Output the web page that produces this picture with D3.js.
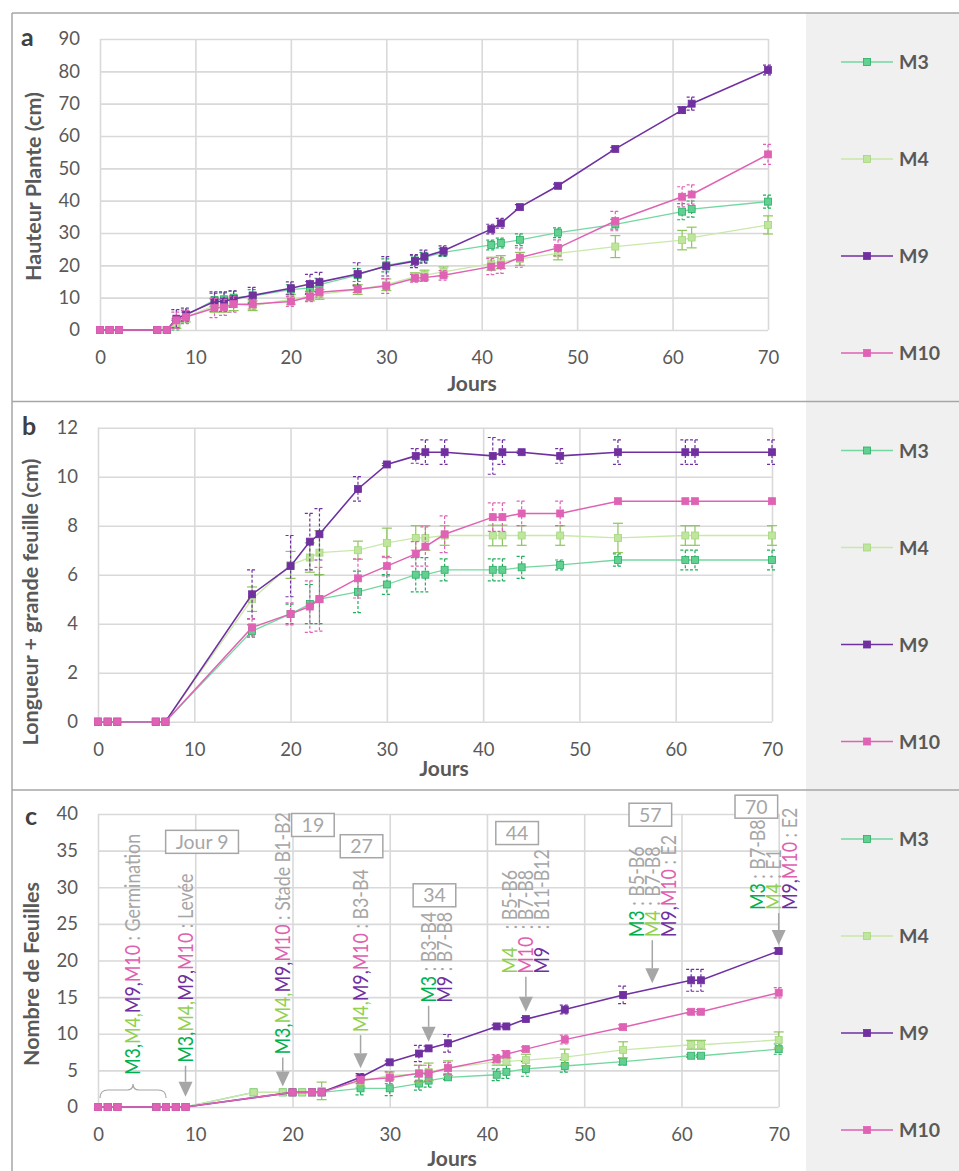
<!DOCTYPE html>
<html>
<head>
<meta charset="utf-8">
<script src="https://cdn.jsdelivr.net/npm/d3@7"></script>
<style>
  body { margin: 0; background: #fff; }
  svg { display: block; }
  text { font-family: Lato, "Open Sans", sans-serif; }
</style>
</head>
<body>
<svg id="fig" width="959" height="1171"></svg>
<script>
// ---------- data ----------
const seriesNames = ["M3", "M4", "M9", "M10"];
const xTicks = [0, 10, 20, 30, 40, 50, 60, 70];

// a : plant height (cm)
const daysHeight = [0,1,2,6,7,8,9,12,13,14,16,20,22,23,27,30,33,34,36,41,42,44,48,54,61,62,70];
const heightM3  = [0,0,0,0,0,1.5,4.5,9.3,9.5,10.0,10.5,12.5,13.0,14.0,17.0,20.0,21.5,22.5,24.0,26.3,26.9,27.9,30.1,32.7,36.6,37.4,39.7];
const heightM4  = [0,0,0,0,0,2.0,4.0,7.5,7.5,8.0,7.5,9.5,10.5,11.0,12.5,14.0,16.5,17.0,18.0,20.5,21.0,22.0,23.7,25.8,27.8,28.6,32.5];
const heightM9  = [0,0,0,0,0,3.5,4.8,8.8,8.8,9.6,10.7,12.9,14.2,14.8,17.3,19.7,21.3,22.7,24.5,31.2,33.0,38.0,44.6,56.0,68.0,70.0,80.4];
const heightM10 = [0,0,0,0,0,3.0,4.0,6.8,7.0,8.0,8.0,8.8,10.3,11.7,12.6,13.6,16.0,16.2,16.9,19.6,20.0,22.4,25.4,33.7,41.2,41.9,54.3];
const heightErrM3  = [0,0,0,0,0,1.5,2,2,2,2,2,1.5,2,2,2,2,1.5,1.5,1.2,1.5,1.5,1.8,1.5,1.5,2.5,2.5,2];
const heightErrM4  = [0,0,0,0,0,1.5,1.5,2,2,2,1.5,1.5,1.5,1.5,1.5,1.8,1.2,1.5,1.5,2,2,2,2,3.4,3,3.2,2.8];
const heightErrM9  = [0,0,0,0,0,2.8,2,3,3,2.5,2.5,2,3,3,3.5,3,2,2,1.5,1.5,1.5,0.8,0.5,0.5,1,2,1.5];
const heightErrM10 = [0,0,0,0,0,2.5,2,3,2.5,2.5,1.5,1.5,1.5,1.5,1,2.3,1.2,1.2,1.5,2.5,2.5,3,2.5,3,3.1,3,3.1];
const heightTicks = [0,10,20,30,40,50,60,70,80,90];

// b : length of the largest leaf (cm)
const daysLeaf = [0,1,2,6,7,16,20,22,23,27,30,33,34,36,41,42,44,48,54,61,62,70];
const leafM3  = [0,0,0,0,0,3.7,4.4,4.8,5.0,5.3,5.6,6.0,6.0,6.2,6.2,6.2,6.3,6.4,6.6,6.6,6.6,6.6];
const leafM4  = [0,0,0,0,0,5.0,6.4,6.7,6.9,7.0,7.3,7.5,7.5,7.6,7.6,7.6,7.6,7.6,7.5,7.6,7.6,7.6];
const leafM9  = [0,0,0,0,0,5.2,6.35,7.35,7.65,9.5,10.5,10.85,11.0,11.0,10.85,11.0,11.0,10.85,11.0,11.0,11.0,11.0];
const leafM10 = [0,0,0,0,0,3.85,4.4,4.7,5.0,5.85,6.35,6.85,7.15,7.65,8.35,8.35,8.5,8.5,9.0,9.0,9.0,9.0];
const leafErrM3  = [0,0,0,0,0,0.25,0.4,0.8,1.0,0.85,0.4,0.7,0.7,0.45,0.45,0.45,0.45,0.2,0.25,0.4,0.4,0.4];
const leafErrM4  = [0,0,0,0,0,0.5,0.55,0.6,0.9,0.37,0.6,0.5,0.5,0.4,0.42,0.42,0.4,0.4,0.6,0.4,0.4,0.4];
const leafErrM9  = [0,0,0,0,0,1.0,1.25,1.15,1.05,0.5,0.05,0.3,0.5,0.5,0.75,0.5,0.05,0.3,0.5,0.5,0.5,0.5];
const leafErrM10 = [0,0,0,0,0,0.35,0.45,1.05,1.3,0.8,0.4,0.5,0.8,0.75,0.58,0.58,0.5,0.5,0,0,0,0];
const leafTicks = [0,2,4,6,8,10,12];

// c : number of leaves
const daysCount = [0,1,2,6,7,8,9,16,19,20,21,22,23,27,30,33,34,36,41,42,44,48,54,61,62,70];
const countM3  = [0,0,0,0,0,0,0,2,2,2,2,2,2,2.55,2.55,3.2,3.6,4.05,4.4,4.8,5.2,5.6,6.2,7.0,7.0,7.9];
const countM4  = [0,0,0,0,0,0,0,2,2,2,2,2,2.2,3.5,4.3,4.5,4.8,5.3,6.2,6.2,6.4,6.8,7.8,8.5,8.5,9.15];
const countM9  = [0,0,0,0,0,0,0,null,null,2,null,2,2,4.05,6.1,7.3,8.0,8.7,11,11,12,13.3,15.3,17.3,17.3,21.3];
const countM10 = [0,0,0,0,0,0,0,null,null,2,null,2,2,3.7,4.0,4.6,4.6,5.3,6.6,7.2,7.9,9.2,10.9,13,13,15.6];
const countErrM3  = [0,0,0,0,0,0,0,0,0,0,0,0,0,0.9,1.0,0.9,0.9,0.3,0.8,0.9,1.0,0.85,0.45,0.2,0.2,0.7];
const countErrM4  = [0,0,0,0,0,0,0,0,0,0,0,0,1.2,0.8,0.5,1.2,1.2,1.0,0.5,0.5,0.8,1.1,1.1,0.6,0.6,1.1];
const countErrM9  = [0,0,0,0,0,0,0,0,0,0,0,0,0,0.5,0.2,1.1,0.3,1.2,0.2,0.2,0.2,0.6,1.2,1.5,1.5,0.4];
const countErrM10 = [0,0,0,0,0,0,0,0,0,0,0,0,0,0.5,0.8,1.1,1.1,0.8,0.55,0.5,0.3,0.6,0.3,0.3,0.3,0.7];
const countTicks = [0,5,10,15,20,25,30,35,40];

// growth-stage notes on panel c: each line is a list of [text, series] pieces
const stageNotes = [
  { day: 3.6, tip: null, label: null,
    lines: [[["M3,","M3"],["M4,","M4"],["M9,","M9"],["M10","M10"],[" : Germination",null]]] },
  { day: 9, tip: 1.4, len: 31, label: "Jour 9", labelDay: 10.7, labelVal: 36.2,
    lines: [[["M3,","M3"],["M4,","M4"],["M9,","M9"],["M10","M10"],[" : Levée",null]]] },
  { day: 19, tip: 2.8, len: 29, label: "19", labelDay: 22.1, labelVal: 38.5,
    lines: [[["M3,","M3"],["M4,","M4"],["M9,","M9"],["M10","M10"],[" : Stade B1-B2",null]]] },
  { day: 27, tip: 5.3, len: 33, label: "27", labelDay: 27.1, labelVal: 35.6,
    lines: [[["M4,","M4"],["M9,","M9"],["M10","M10"],[" : B3-B4",null]]] },
  { day: 34, tip: 8.9, len: 36, label: "34", labelDay: 34.6, labelVal: 28.9, first: 0,
    lines: [[["M3","M3"],[" : B3-B4",null]], [["M9","M9"],[" : B7-B8",null]]] },
  { day: 44, tip: 13.0, len: 35, label: "44", labelDay: 43.1, labelVal: 37.4, first: 1, tab: true,
    lines: [[["M4","M4"],[" : B5-B6",null]], [["M10","M10"],[" : B7-B8",null]], [["M9","M9"],[" : B11-B12",null]]] },
  { day: 57, tip: 16.9, len: 43, label: "57", labelDay: 56.8, labelVal: 39.9, first: 1,
    lines: [[["M3","M3"],[" : B5-B6",null]], [["M4","M4"],[" : B7-B8",null]], [["M9,","M9"],["M10","M10"],[" : E2",null]]] },
  { day: 70, tip: 22.1, len: 32, label: "70", labelDay: 67.7, labelVal: 41.0, first: 1.3,
    lines: [[["M3","M3"],[" : B7-B8",null]], [["M4","M4"],[" : E1",null]], [["M9,","M9"],["M10","M10"],[" : E2",null]]] }
];

// ---------- styles ----------
const style = {
  M3:  { line: "#74d7a0", lw: 1.3, fill: "#63cf92", stroke: "#25b062", err: "#20ad5c", dash: "3,2", text: "#00b050" },
  M4:  { line: "#c8e9a9", lw: 1.3, fill: "#c0e59e", stroke: "#a3d67c", err: "#8cc65a", dash: null,  text: "#92d050" },
  M9:  { line: "#7030a0", lw: 1.6, fill: "#7030a0", stroke: "#7030a0", err: "#7030a0", dash: "3,2", text: "#7030a0" },
  M10: { line: "#df62b4", lw: 1.5, fill: "#df62b4", stroke: "#df62b4", err: "#df62b4", dash: "3,2", text: "#e060b0" }
};
const GRID = "#d9d9d9", INK = "#595959", NOTE = "#a6a6a6", FRAME = "#a6a6a6";

const svg = d3.select("#fig");
const W = 959, H = 1171;
const legendX = 806;

// legend background column
svg.append("rect").attr("x", legendX).attr("y", 13).attr("width", W - legendX).attr("height", H - 13).attr("fill", "#f0f0f0");

const panels = [
  { letter: "a", top: 13, bottom: 401.5, plot: { l: 100, r: 768, t: 39, b: 330 }, yMax: 90, yTicks: heightTicks,
    title: "Hauteur Plante (cm)", titleX: 33, titleY: 186.5, xTitleX: 472, xTitleY: 391, letterPos: [21, 46],
    days: daysHeight, values: { M3: heightM3, M4: heightM4, M9: heightM9, M10: heightM10 },
    errs: { M3: heightErrM3, M4: heightErrM4, M9: heightErrM9, M10: heightErrM10 } },
  { letter: "b", top: 401.5, bottom: 790, plot: { l: 98, r: 772, t: 427.7, b: 721.7 }, yMax: 12, yTicks: leafTicks,
    title: "Longueur + grande feuille (cm)", titleX: 30, titleY: 602, xTitleX: 444, xTitleY: 776, letterPos: [22, 435],
    days: daysLeaf, values: { M3: leafM3, M4: leafM4, M9: leafM9, M10: leafM10 },
    errs: { M3: leafErrM3, M4: leafErrM4, M9: leafErrM9, M10: leafErrM10 } },
  { letter: "c", top: 790, bottom: H + 5, plot: { l: 98, r: 778.7, t: 814, b: 1107 }, yMax: 40, yTicks: countTicks,
    title: "Nombre de Feuilles", titleX: 31, titleY: 974, xTitleX: 452, xTitleY: 1166, letterPos: [25, 825],
    days: daysCount, values: { M3: countM3, M4: countM4, M9: countM9, M10: countM10 },
    errs: { M3: countErrM3, M4: countErrM4, M9: countErrM9, M10: countErrM10 } }
];

panels.forEach(p => {
  const x = d3.scaleLinear().domain([0, 70]).range([p.plot.l, p.plot.r]);
  const y = d3.scaleLinear().domain([0, p.yMax]).range([p.plot.b, p.plot.t]);
  p.x = x; p.y = y;
  const g = svg.append("g");

  // grid + tick labels
  const yAxis = d3.axisLeft(y).tickValues(p.yTicks).tickSize(-(p.plot.r - p.plot.l)).tickPadding(20).tickFormat(d3.format("d"));
  const xAxis = d3.axisBottom(x).tickValues(xTicks).tickSize(-(p.plot.b - p.plot.t)).tickPadding(21).tickFormat(d3.format("d"));
  const gy = g.append("g").attr("transform", `translate(${p.plot.l},0)`).call(yAxis);
  const gx = g.append("g").attr("transform", `translate(0,${p.plot.b})`).call(xAxis);
  [gx, gy].forEach(ax => {
    ax.select(".domain").remove();
    ax.selectAll(".tick line").attr("stroke", GRID).attr("stroke-width", 1.6);
    ax.selectAll(".tick text").attr("fill", INK).attr("font-size", 18.5).attr("font-family", "Lato, sans-serif");
  });

  // titles
  g.append("text").attr("transform", `translate(${p.titleX},${p.titleY}) rotate(-90)`)
    .attr("text-anchor", "middle").attr("dy", "0.35em").attr("font-size", 21.5).attr("font-weight", 700).attr("fill", INK).text(p.title);
  g.append("text").attr("x", p.xTitleX).attr("y", p.xTitleY).attr("text-anchor", "middle")
    .attr("font-size", 21).attr("font-weight", 700).attr("fill", INK).text("Jours");
  g.append("text").attr("x", p.letterPos[0]).attr("y", p.letterPos[1]).attr("font-size", 25).attr("font-weight", 700).attr("fill", "#404040").text(p.letter);

  // series
  seriesNames.forEach(name => {
    const st = style[name];
    const pts = p.days.map((d, i) => ({ d, v: p.values[name][i], e: p.errs[name][i] })).filter(o => o.v !== null);
    const sg = g.append("g");
    sg.append("path").datum(pts).attr("fill", "none").attr("stroke", st.line).attr("stroke-width", st.lw)
      .attr("d", d3.line().x(o => x(o.d)).y(o => y(o.v)));
    // error bars
    const eb = sg.append("g").attr("stroke", st.err).attr("stroke-width", 1.2).attr("stroke-dasharray", st.dash);
    pts.filter(o => o.e > 0).forEach(o => {
      const cx = x(o.d), y1 = y(o.v + o.e), y0 = y(o.v - o.e);
      eb.append("line").attr("x1", cx).attr("x2", cx).attr("y1", y1).attr("y2", y0);
      eb.append("line").attr("x1", cx - 5).attr("x2", cx + 5).attr("y1", y1).attr("y2", y1);
      eb.append("line").attr("x1", cx - 5).attr("x2", cx + 5).attr("y1", y0).attr("y2", y0);
    });
    sg.selectAll("rect.mk").data(pts).join("rect").attr("class", "mk")
      .attr("x", o => x(o.d) - 3.5).attr("y", o => y(o.v) - 3.5).attr("width", 7).attr("height", 7)
      .attr("fill", st.fill).attr("stroke", st.stroke).attr("stroke-width", 0.8);
  });

  // legend
  seriesNames.forEach((name, i) => {
    const st = style[name];
    const ly = p.top + 49 + i * 97;
    svg.append("line").attr("x1", 841).attr("x2", 893).attr("y1", ly).attr("y2", ly).attr("stroke", st.line).attr("stroke-width", st.lw);
    svg.append("rect").attr("x", 863.5).attr("y", ly - 3.5).attr("width", 7).attr("height", 7).attr("fill", st.fill).attr("stroke", st.stroke).attr("stroke-width", 0.8);
    svg.append("text").attr("x", 899).attr("y", ly + 7).attr("font-size", 19.5).attr("font-weight", 700).attr("fill", INK).text(name);
  });
});

// panel frame lines
const frame = svg.append("g").attr("stroke", FRAME).attr("stroke-width", 1.5);
frame.append("line").attr("x1", 12).attr("x2", 12).attr("y1", 13).attr("y2", H);
[13, 401.5, 790].forEach(yy => frame.append("line").attr("x1", 12).attr("x2", W).attr("y1", yy).attr("y2", yy));

// ---------- stage notes on panel c ----------
const pc = panels[2];
const notes = svg.append("g");
// notes use a slightly condensed face: taller glyphs, same run length
const NOTE_FS = 20.5, NOTE_SQUEEZE = 0.87, LINE_GAP = 16;

stageNotes.forEach(n => {
  const ax = pc.x(n.day);
  let textBottom;
  if (n.tip !== null) {
    const tipY = pc.y(n.tip);
    const topY = tipY - n.len;
    const headH = 15, headW = 7;
    notes.append("line").attr("x1", ax).attr("x2", ax).attr("y1", topY).attr("y2", tipY - headH)
      .attr("stroke", NOTE).attr("stroke-width", 1.5);
    notes.append("path").attr("d", `M${ax - headW},${tipY - headH}L${ax + headW},${tipY - headH}L${ax},${tipY}Z`).attr("fill", NOTE);
    textBottom = topY - 3;
  } else {
    textBottom = 1075;
  }
  const first = n.first || 0;
  n.lines.forEach((parts, li) => {
    const cx = ax + (li - first) * LINE_GAP;
    const t = notes.append("text").attr("transform", `translate(${cx},${textBottom}) rotate(-90) scale(${NOTE_SQUEEZE},1)`)
      .attr("dy", "0.36em").attr("font-size", NOTE_FS);
    parts.forEach(([txt, key]) => {
      const ts = t.append("tspan").attr("fill", key ? style[key].text : NOTE).text(txt);
      if (n.tab && key === null) ts.attr("x", 46);
    });
  });
  if (n.label) {
    const bx = pc.x(n.labelDay), by = pc.y(n.labelVal);
    const lbl = notes.append("text").attr("x", bx).attr("y", by).attr("dy", "0.36em").attr("text-anchor", "middle")
      .attr("font-size", 19.5).attr("fill", NOTE).text(n.label);
    const w = lbl.node().getComputedTextLength() + 20;
    notes.insert("rect", () => lbl.node()).attr("x", bx - w / 2).attr("y", by - 11.5).attr("width", w).attr("height", 23)
      .attr("fill", "#fff").attr("stroke", NOTE).attr("stroke-width", 1.5);
  }
});

// brace under the germination period (days 0-7)
{
  const x0 = pc.x(0) + 2, x1 = pc.x(7), xm = (x0 + x1) / 2;
  const yb = 1098, yl = 1090, yp = 1084;
  notes.append("path")
    .attr("d", `M${x0},${yb} Q${x0},${yl} ${x0 + 8},${yl} L${xm - 6},${yl} Q${xm},${yl} ${xm},${yp} Q${xm},${yl} ${xm + 6},${yl} L${x1 - 8},${yl} Q${x1},${yl} ${x1},${yb}`)
    .attr("fill", "none").attr("stroke", NOTE).attr("stroke-width", 1.2);
}
</script>
</body>
</html>
